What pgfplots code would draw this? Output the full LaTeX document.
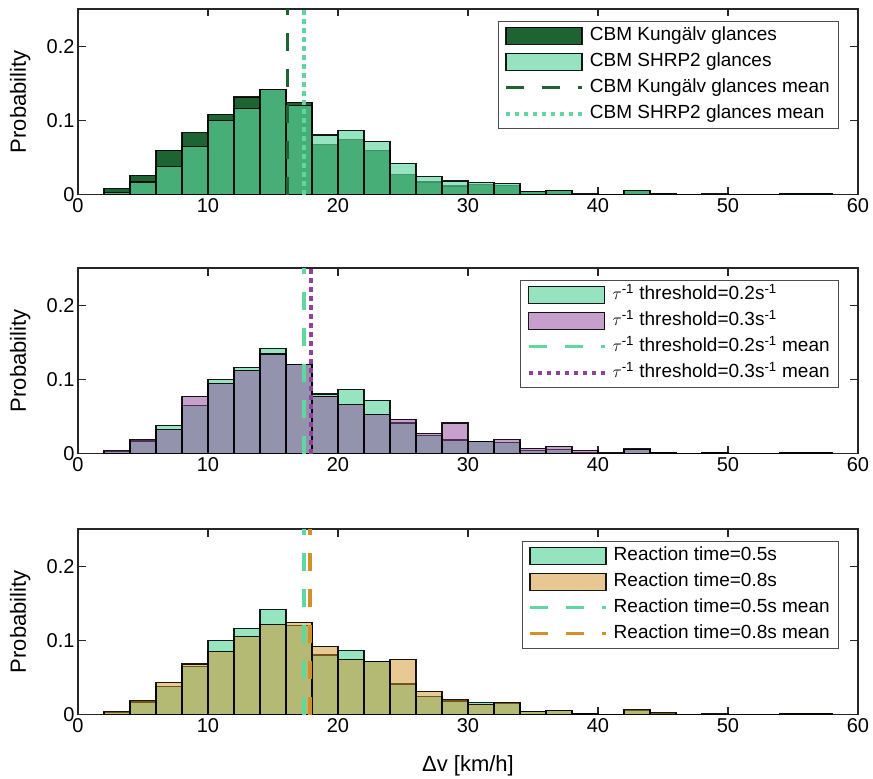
\documentclass[border=0pt]{standalone}
\usepackage{fontspec}
\setmainfont{Liberation Sans}
\usepackage{pgfplots}
\pgfplotsset{compat=1.18}
\definecolor{dkg}{RGB}{30,100,50}
\definecolor{lgr}{RGB}{95,215,158}
\definecolor{pur}{RGB}{145,65,155}
\definecolor{org}{RGB}{210,145,40}
\definecolor{axc}{RGB}{38,38,38}
\newcommand\tickf{\fontsize{20}{24}\selectfont}
\newcommand\labf{\fontsize{22}{26}\selectfont}
\newcommand\legf{\fontsize{19}{23}\selectfont}
\pgfplotsset{
  barleg/.style={legend image code/.code={\draw[##1] (0pt,-8.5pt) rectangle (76pt,8.5pt);}},
  lineleg/.style={legend image code/.code={\draw[##1] (0pt,0pt) -- (76pt,0pt);}},
  hist/.style={ybar interval, draw=black, line width=1.1pt, draw opacity=0.9, barleg},
  common/.style={
    scale only axis, width=780pt, height=185.7pt,
    xmin=0, xmax=60, ymin=0, ymax=0.25,
    xtick={0,10,...,60}, ytick={0,0.1,0.2},
    yticklabels={0,0.1,0.2},
    tick align=inside, major tick length=7.5pt,
    axis line style={draw=axc, line width=1.1pt},
    every tick/.style={axc, line width=1.1pt},
    /pgf/number format/assume math mode=true,
    every tick label/.append style={font=\tickf},
    every axis label/.append style={font=\labf},
    ylabel={Probability},
    ylabel style={at={(axis description cs:-0.074,0.5)}, anchor=center},
    xlabel style={yshift=-16pt},
    legend cell align=left,
    legend style={at={(rel axis cs:1,1)}, anchor=north east, xshift=-19pt, yshift=-12pt,
      draw=black!70, line width=0.6pt, font=\legf,
      row sep=5.5pt, column sep=3pt, inner xsep=6pt, inner ysep=4pt,
      nodes={inner xsep=3pt, inner ysep=1pt, text height=14pt, text depth=4.5pt}},
    anchor=north west,
  },
}
\begin{document}
\begin{tikzpicture}
\path[use as bounding box] (-78pt,-779pt) rectangle (795pt,0pt);
% Panel 1
\begin{axis}[common, at={(0pt,-9pt)}]
\addplot[hist, fill=dkg] coordinates {
(2,0.0081) (4,0.0257) (6,0.0599) (8,0.0833) (10,0.108) (12,0.1315) (14,0.1414) (16,0.1239)
(18,0.0671) (20,0.0743) (22,0.0599) (24,0.0266) (26,0.0171) (28,0.0117) (30,0.0135) (32,0.0126)
(34,0.004) (36,0.0054) (38,0) (40,0) (42,0.0059) (44,0.002) (46,0) (48,0) (50,0) (52,0)
(54,0.002) (56,0.002) (58,0)};
\addlegendentry{CBM Kungälv glances}
\addplot[hist, fill=lgr, fill opacity=0.65] coordinates {
(2,0.0027) (4,0.0171) (6,0.0380) (8,0.0650) (10,0.0998) (12,0.1162) (14,0.1416) (16,0.1205)
(18,0.0804) (20,0.0863) (22,0.0714) (24,0.0414) (26,0.0245) (28,0.0185) (30,0.0160) (32,0.0149)
(34,0.0040) (36,0.0054) (38,0.0015) (40,0) (42,0.0060) (44,0.0020) (46,0) (48,0.0010) (50,0) (52,0)
(54,0.0020) (56,0.0020) (58,0)};
\addlegendentry{CBM SHRP2 glances}
\addplot[dkg, line width=3.5pt, dash pattern=on 18pt off 18pt, lineleg] coordinates {(16.1,0) (16.1,0.25)};
\addlegendentry{CBM Kungälv glances mean}
\addplot[lgr, line width=4pt, dash pattern=on 4.5pt off 4.5pt, lineleg] coordinates {(17.4,0) (17.4,0.25)};
\addlegendentry{CBM SHRP2 glances mean}
\end{axis}
% Panel 2
\begin{axis}[common, at={(0pt,-268pt)}]
\addplot[hist, fill=lgr, fill opacity=0.65] coordinates {
(2,0.0027) (4,0.0171) (6,0.0380) (8,0.0650) (10,0.0998) (12,0.1162) (14,0.1416) (16,0.1205)
(18,0.0804) (20,0.0863) (22,0.0714) (24,0.0414) (26,0.0245) (28,0.0185) (30,0.0160) (32,0.0149)
(34,0.0040) (36,0.0054) (38,0.0015) (40,0) (42,0.0060) (44,0.0020) (46,0) (48,0.0010) (50,0) (52,0)
(54,0.0020) (56,0.0020) (58,0)};
\addlegendentry{$\tau$\textsuperscript{-1} threshold=0.2s\textsuperscript{-1}}
\addplot[hist, fill=pur, fill opacity=0.5] coordinates {
(2,0.004) (4,0.0192) (6,0.0324) (8,0.0775) (10,0.0950) (12,0.1122) (14,0.1342) (16,0.1205)
(18,0.0775) (20,0.0662) (22,0.0532) (24,0.0464) (26,0.0275) (28,0.0414) (30,0.0162) (32,0.0188)
(34,0.0072) (36,0.0099) (38,0.0045) (40,0.001) (42,0.0063) (44,0.002) (46,0) (48,0.001) (50,0) (52,0)
(54,0.002) (56,0.002) (58,0)};
\addlegendentry{$\tau$\textsuperscript{-1} threshold=0.3s\textsuperscript{-1}}
\addplot[lgr, line width=3.5pt, dash pattern=on 18pt off 18pt, lineleg] coordinates {(17.4,0) (17.4,0.25)};
\addlegendentry{$\tau$\textsuperscript{-1} threshold=0.2s\textsuperscript{-1} mean}
\addplot[pur, line width=4pt, dash pattern=on 4.5pt off 4.5pt, lineleg] coordinates {(17.95,0) (17.95,0.25)};
\addlegendentry{$\tau$\textsuperscript{-1} threshold=0.3s\textsuperscript{-1} mean}
\end{axis}
% Panel 3
\begin{axis}[common, at={(0pt,-529pt)}, xlabel={Δv [km/h]}]
\addplot[hist, fill=lgr, fill opacity=0.65] coordinates {
(2,0.0027) (4,0.0171) (6,0.0380) (8,0.0650) (10,0.0998) (12,0.1162) (14,0.1416) (16,0.1205)
(18,0.0804) (20,0.0863) (22,0.0714) (24,0.0414) (26,0.0245) (28,0.0185) (30,0.0160) (32,0.0149)
(34,0.0040) (36,0.0054) (38,0.0015) (40,0) (42,0.0060) (44,0.0020) (46,0) (48,0.0010) (50,0) (52,0)
(54,0.0020) (56,0.0020) (58,0)};
\addlegendentry{Reaction time=0.5s}
\addplot[hist, fill=org, fill opacity=0.5] coordinates {
(2,0.004) (4,0.019) (6,0.0434) (8,0.0683) (10,0.0846) (12,0.105) (14,0.122) (16,0.1244)
(18,0.0923) (20,0.0742) (22,0.0716) (24,0.0747) (26,0.0308) (28,0.0204) (30,0.014) (32,0.0168)
(34,0.0045) (36,0.0059) (38,0.001) (40,0) (42,0.0068) (44,0.0027) (46,0) (48,0) (50,0) (52,0)
(54,0.002) (56,0.002) (58,0)};
\addlegendentry{Reaction time=0.8s}
\addplot[lgr, line width=3.5pt, dash pattern=on 18pt off 18pt, lineleg] coordinates {(17.4,0) (17.4,0.25)};
\addlegendentry{Reaction time=0.5s mean}
\addplot[org, line width=3.5pt, dash pattern=on 18pt off 18pt, lineleg] coordinates {(17.85,0) (17.85,0.25)};
\addlegendentry{Reaction time=0.8s mean}
\end{axis}
\end{tikzpicture}
\end{document}
